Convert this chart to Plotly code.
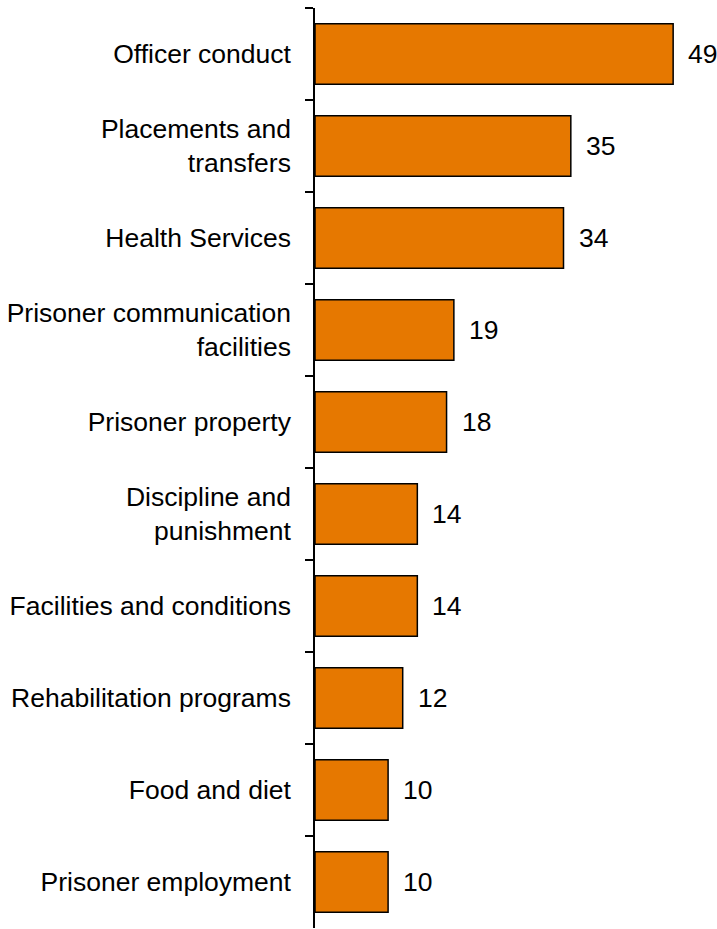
import plotly.graph_objects as go

categories = [
    "Officer conduct",
    "Placements and<br>transfers",
    "Health Services",
    "Prisoner communication<br>facilities",
    "Prisoner property",
    "Discipline and<br>punishment",
    "Facilities and conditions",
    "Rehabilitation programs",
    "Food and diet",
    "Prisoner employment",
]
values = [49, 35, 34, 19, 18, 14, 14, 12, 10, 10]

BAR_COLOR = "#E67800"
FONT = "Liberation Sans, Arial, sans-serif"
FS = 26.5

fig = go.Figure()
fig.add_trace(go.Bar(
    x=values,
    y=categories,
    orientation="h",
    marker=dict(color=BAR_COLOR, line=dict(color="black", width=1.5)),
    width=0.66,
    hoverinfo="skip",
))

for c, v in zip(categories, values):
    fig.add_annotation(
        x=v, y=c, text=str(v), showarrow=False,
        xanchor="left", yanchor="middle", xshift=13,
        font=dict(family=FONT, size=FS, color="black"),
    )

fig.update_layout(
    width=717, height=929,
    margin=dict(l=315, r=0, t=8, b=1),
    plot_bgcolor="white", paper_bgcolor="white",
    showlegend=False,
    font=dict(family=FONT, size=FS, color="black"),
    xaxis=dict(visible=False, range=[0, 55], fixedrange=True),
    yaxis=dict(
        autorange="reversed",
        showline=True, linecolor="black", linewidth=1.5,
        ticks="outside", ticklen=8, tickwidth=1.5, tickcolor="black",
        tickson="boundaries",
        showgrid=False,
        ticklabelstandoff=17,
        tickfont=dict(family=FONT, size=FS, color="black"),
    ),
)

fig.write_html("out.html")
